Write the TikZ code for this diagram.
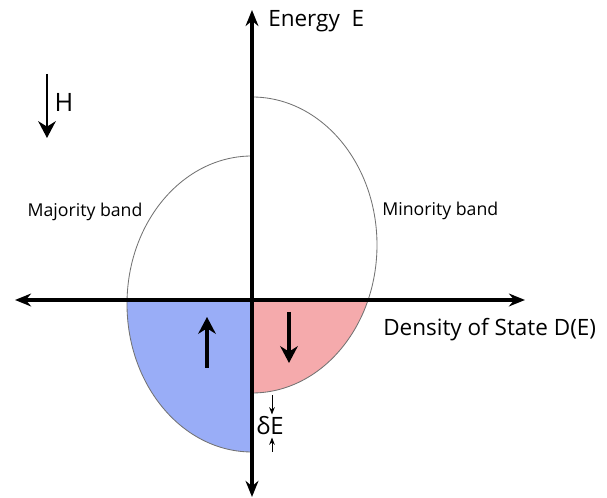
\documentclass[tikz,border=0pt]{standalone}
\usepackage{fontspec}
\setmainfont{Open Sans}
\usetikzlibrary{arrows.meta,positioning}
\definecolor{majblue}{RGB}{153,173,247}
\definecolor{minpink}{RGB}{245,170,172}

\begin{document}
\begin{tikzpicture}[>=Stealth]
  \tikzstyle{axis}=[line width=2.2pt,{Stealth[length=4mm,width=3.2mm]}-{Stealth[length=4mm,width=3.2mm]}]
  \tikzstyle{band}=[draw=black!55,line width=0.6pt]
  \tikzstyle{spin}=[line width=2.2pt,-{Stealth[length=4.2mm,width=4.4mm]}]
  \tikzstyle{field}=[line width=1.6pt,-{Stealth[length=4.2mm,width=4.4mm]}]
  \tikzstyle{tick}=[line width=0.6pt,-{Stealth[length=1.8mm,width=1.4mm]}]
  \tikzstyle{lbl}=[inner sep=0pt,font=\fontsize{16}{18}\selectfont]
  \tikzstyle{small}=[inner sep=0pt,font=\fontsize{12.6}{14}\selectfont]
  \useasboundingbox (-6.3,-4.95) rectangle (8.875,7.5);

  \begin{scope}
    \clip (-3.3,0) rectangle (0,-4);
    \fill[majblue] (0,-0.1) ellipse[x radius=3.125,y radius=3.7];
  \end{scope}
  \begin{scope}
    \clip (0,0) rectangle (3.3,-3);
    \fill[minpink] (0,1.375) ellipse[x radius=3.125,y radius=3.7];
  \end{scope}
  \draw[band] (0,3.6) arc[start angle=90,end angle=270,x radius=3.125,y radius=3.7];
  \draw[band] (0,5.075) arc[start angle=90,end angle=-90,x radius=3.125,y radius=3.7];

  \coordinate (eTop) at (0,7.25);
  \coordinate (eBot) at (0,-4.925);
  \coordinate (dLeft) at (-5.925,0);
  \coordinate (dRight) at (6.825,0);
  \draw[axis] (dLeft) -- (dRight);
  \draw[axis] (eBot) -- (eTop);

  \node[lbl,anchor=west] (energy) at (0.4,6.975) {Energy\ \ E};
  \node[lbl,anchor=west] (dos) at (3.275,-0.75) {Density of State D(E)};
  \node[small] (maj) at (-4.175,2.2) {Majority band};
  \node[small,anchor=west] (min) at (3.25,2.225) {Minority band};

  \coordinate (hTop) at (-5.125,5.65);
  \coordinate (hTip) at (-5.125,4.05);
  \draw[field] (hTop) -- (hTip);
  \node[lbl,font=\fontsize{18}{20}\selectfont] (hlbl) at (-4.7,4.95) {H};

  \coordinate (upTail) at (-1.125,-1.7);
  \coordinate (upTip) at (-1.125,-0.425);
  \coordinate (dnTail) at (0.925,-0.3);
  \coordinate (dnTip) at (0.925,-1.575);
  \draw[spin] (upTail) -- (upTip);
  \draw[spin] (dnTail) -- (dnTip);

  \node[lbl,inner sep=1.5pt,font=\fontsize{17}{19}\selectfont] (dE) at (0.45,-3.15) {δE};
  \coordinate (minBot) at (0.5,-2.375);
  \coordinate (majBot) at (0.5,-3.8);
  \draw[tick] (minBot) -- (dE.north -| minBot);
  \draw[tick] (majBot) -- (dE.south -| majBot);
\end{tikzpicture}
\end{document}
